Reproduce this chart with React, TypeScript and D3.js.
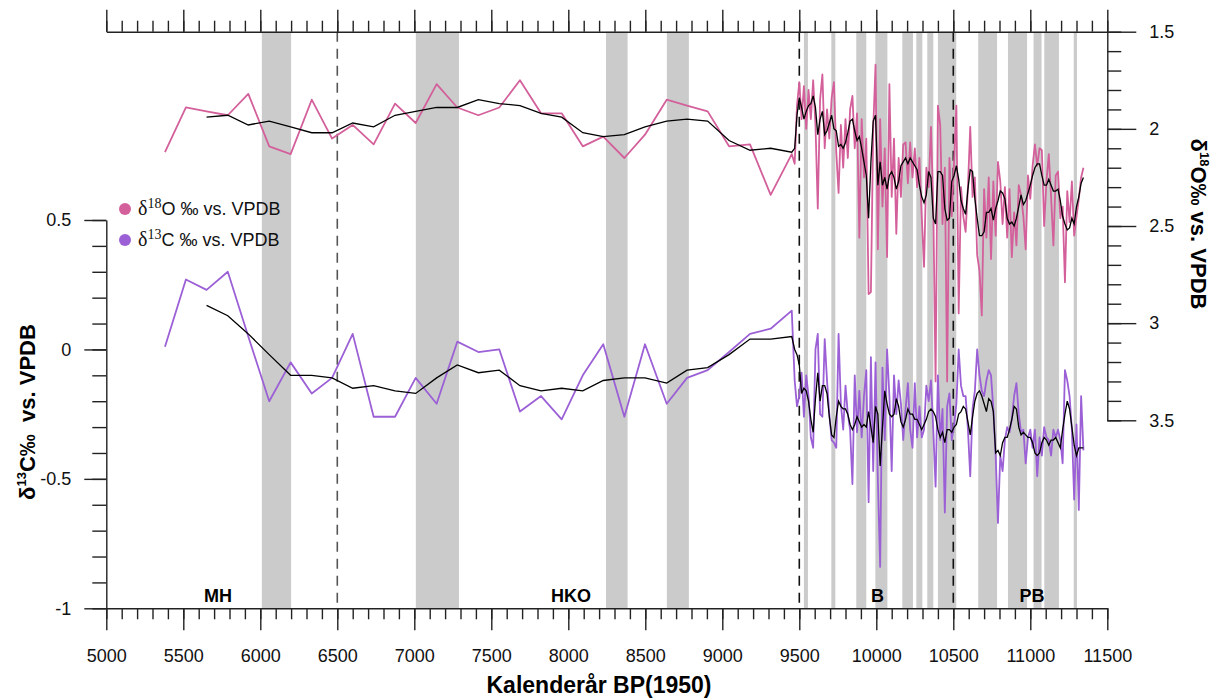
import * as React from 'react';
import * as d3 from 'd3';

// low resolution part of the record (years BP)
const lowYears = [5381, 5517, 5651, 5789, 5922, 6058, 6197, 6334, 6466, 6600, 6736, 6875, 7009, 7145, 7279, 7416, 7552, 7686, 7823, 7957, 8094, 8227, 8364, 8498, 8639, 8771, 8905, 9044, 9180, 9314, 9451];
const lowO18 = [2.12, 1.89, 1.91, 1.93, 1.82, 2.09, 2.13, 1.85, 2.05, 1.98, 2.08, 1.87, 1.97, 1.77, 1.89, 1.93, 1.89, 1.75, 1.92, 1.92, 2.09, 2.04, 2.15, 2.03, 1.85, 1.88, 1.91, 2.09, 2.08, 2.34, 2.13];
const lowC13 = [0.01, 0.27, 0.23, 0.30, 0.05, -0.20, -0.05, -0.17, -0.11, 0.06, -0.26, -0.26, -0.11, -0.21, 0.03, -0.01, 0.00, -0.24, -0.18, -0.27, -0.10, 0.02, -0.26, 0.02, -0.21, -0.11, -0.08, -0.01, 0.06, 0.08, 0.15];
// smoothed curves start at the third sample
const lowSmoothO18 = [1.94, 1.93, 1.98, 1.96, 1.99, 2.02, 2.02, 1.97, 1.99, 1.93, 1.91, 1.89, 1.89, 1.85, 1.87, 1.88, 1.92, 1.94, 2.02, 2.04, 2.03, 1.99, 1.96, 1.95, 1.96, 2.06, 2.11, 2.10, 2.12];
const lowSmoothC13 = [0.17, 0.13, 0.06, -0.02, -0.10, -0.10, -0.11, -0.15, -0.14, -0.16, -0.17, -0.11, -0.06, -0.09, -0.08, -0.14, -0.16, -0.15, -0.16, -0.12, -0.11, -0.11, -0.13, -0.08, -0.07, -0.02, 0.04, 0.04, 0.05];

// high resolution part
const hiYears = [9470, 9485, 9500, 9515, 9530, 9545, 9560, 9575, 9590, 9605, 9620, 9635, 9650, 9665, 9680, 9695, 9710, 9725, 9740, 9755, 9770, 9785, 9800, 9815, 9830, 9845, 9860, 9875, 9890, 9905, 9920, 9935, 9950, 9965, 9980, 9995,
  10010, 10025, 10040, 10055, 10070, 10085, 10100, 10115, 10130, 10145, 10160, 10175, 10190, 10205, 10220, 10235, 10250, 10265, 10280, 10295, 10310, 10325, 10340, 10355, 10370, 10385, 10400, 10415, 10430, 10445, 10460, 10475, 10490, 10505,
  10520, 10535, 10550, 10565, 10580, 10595, 10610, 10625, 10640, 10655, 10670, 10685, 10700, 10715, 10730, 10745, 10760, 10775, 10790, 10805, 10820, 10835, 10850, 10865, 10880, 10895, 10910, 10925, 10940, 10955, 10970, 10985, 11000,
  11015, 11030, 11045, 11060, 11075, 11090, 11105, 11120, 11135, 11150, 11165, 11180, 11195, 11210, 11225, 11240, 11255, 11270, 11285, 11300, 11315, 11330, 11345];
const hiO18 = [2.18, 1.88, 1.76, 1.95, 1.78, 2.00, 1.80, 1.95, 1.75, 1.98,
  2.41, 1.85, 1.72, 2.10, 1.90, 2.05, 1.84, 1.76, 2.12, 2.33,
  1.98, 2.20, 1.95, 2.15, 1.90, 1.83, 2.10, 1.92, 2.56, 1.95,
  2.25, 2.05, 2.85, 2.84, 2.00, 1.67, 2.62, 1.95, 2.40, 2.10,
  2.66, 1.77, 2.35, 2.05, 2.54, 2.15, 2.35, 2.08, 2.07, 2.28,
  2.07, 2.25, 2.10, 2.30, 2.15, 2.45, 2.71, 2.20, 2.30, 1.99,
  2.40, 3.30, 1.88, 1.98, 2.49, 2.20, 3.30, 2.15, 2.45, 2.17,
  1.88, 2.95, 2.30, 2.45, 2.53, 2.30, 1.99, 2.35, 2.25, 2.65,
  2.73, 2.96, 2.31, 2.56, 2.25, 2.67, 2.27, 2.55, 2.17, 2.27,
  2.49, 2.30, 2.56, 2.31, 2.66, 2.43, 2.60, 2.29, 2.34, 2.45,
  2.62, 2.24, 2.36, 2.19, 2.08, 2.19, 2.10, 2.11, 2.50, 2.27,
  2.13, 2.35, 2.60, 2.24, 2.22, 2.46, 2.40, 2.79, 2.32, 2.48,
  2.27, 2.55, 2.45, 2.36, 2.25, 2.20];
const hiSmoothO18 = [2.10, 1.93, 1.84, 1.89, 1.95, 1.91, 1.88, 1.87, 1.83, 1.89,
  2.03, 1.95, 1.91, 2.03, 2.01, 1.97, 1.93, 2.00, 2.01, 2.09,
  2.08, 2.10, 2.07, 2.02, 1.96, 1.95, 2.01, 2.06, 2.04, 2.10,
  2.17, 2.24, 2.46, 2.17, 1.96, 1.93, 2.29, 2.17, 2.29, 2.25,
  2.31, 2.24, 2.22, 2.25, 2.31, 2.27, 2.19, 2.17, 2.15, 2.18,
  2.15, 2.17, 2.19, 2.21, 2.29, 2.35, 2.38, 2.34, 2.22, 2.25,
  2.46, 2.49, 2.22, 2.22, 2.24, 2.41, 2.47, 2.46, 2.27, 2.24,
  2.19, 2.26, 2.37, 2.41, 2.44, 2.31, 2.21, 2.22, 2.36, 2.46,
  2.55, 2.55, 2.53, 2.43, 2.43, 2.41, 2.47, 2.41, 2.37, 2.32,
  2.33, 2.36, 2.46, 2.49, 2.48, 2.50, 2.46, 2.40, 2.34, 2.39,
  2.37, 2.33, 2.29, 2.24, 2.20, 2.18, 2.18, 2.24, 2.29, 2.29,
  2.26, 2.29, 2.32, 2.32, 2.31, 2.37, 2.45, 2.49, 2.52, 2.51,
  2.46, 2.49, 2.40, 2.35, 2.28, 2.25];
const hiC13 = [-0.12, -0.22, -0.18, -0.09, -0.26, -0.10, -0.18, -0.34, -0.38, 0.00,
  0.06, -0.25, -0.26, 0.04, -0.12, -0.25, -0.35, -0.36, -0.38, 0.06,
  -0.21, -0.31, -0.14, -0.25, -0.31, -0.52, -0.10, -0.32, -0.16, -0.34,
  -0.18, -0.08, -0.59, -0.03, -0.47, -0.05, -0.50, -0.84, -0.07, -0.35,
  0.00, -0.18, -0.47, -0.10, -0.25, -0.12, -0.21, -0.35, -0.23, -0.13,
  -0.31, -0.38, -0.13, -0.34, -0.22, -0.34, -0.31, -0.14, -0.20, -0.12,
  -0.31, -0.53, -0.10, -0.35, -0.23, -0.63, -0.22, -0.17, -0.35, -0.29,
  -0.21, 0.00, -0.14, -0.18, -0.18, -0.31, -0.49, -0.23, -0.16, 0.00,
  -0.10, -0.16, -0.18, -0.12, -0.08, -0.10, -0.23, -0.41, -0.67, -0.41,
  -0.47, -0.35, -0.30, -0.32, -0.27, -0.18, -0.13, -0.25, -0.32, -0.31,
  -0.44, -0.34, -0.31, -0.38, -0.31, -0.49, -0.34, -0.41, -0.30, -0.34,
  -0.35, -0.41, -0.31, -0.34, -0.31, -0.35, -0.44, -0.08, -0.12, -0.18,
  -0.31, -0.58, -0.29, -0.62, -0.18, -0.39];
const hiSmoothC13 = [0.00, -0.02, -0.06, -0.17, -0.15, -0.16, -0.20, -0.27, -0.32, -0.19,
  -0.09, -0.20, -0.14, -0.14, -0.17, -0.26, -0.33, -0.34, -0.26, -0.20,
  -0.22, -0.23, -0.23, -0.25, -0.29, -0.31, -0.29, -0.26, -0.28, -0.30,
  -0.29, -0.30, -0.24, -0.30, -0.36, -0.22, -0.25, -0.45, -0.30, -0.16,
  -0.21, -0.25, -0.26, -0.25, -0.19, -0.22, -0.28, -0.30, -0.27, -0.23,
  -0.25, -0.25, -0.27, -0.27, -0.29, -0.31, -0.29, -0.27, -0.24, -0.23,
  -0.24, -0.26, -0.31, -0.34, -0.32, -0.36, -0.31, -0.31, -0.32, -0.30,
  -0.29, -0.25, -0.24, -0.22, -0.23, -0.28, -0.33, -0.26, -0.20, -0.17,
  -0.16, -0.18, -0.21, -0.24, -0.19, -0.20, -0.24, -0.40, -0.39, -0.41,
  -0.36, -0.34, -0.34, -0.31, -0.27, -0.22, -0.23, -0.30, -0.33, -0.32,
  -0.33, -0.34, -0.34, -0.36, -0.40, -0.41, -0.40, -0.36, -0.34, -0.35,
  -0.37, -0.35, -0.35, -0.34, -0.36, -0.38, -0.31, -0.25, -0.20, -0.23,
  -0.30, -0.37, -0.41, -0.38, -0.38, -0.38];

// shaded intervals [start, end] in years BP
const bands = [[6010, 6200], [7010, 7290], [8245, 8385], [8640, 8783], [9530, 9556], [9708, 9734], [9870, 9935], [9994, 10072],
  [10169, 10238], [10260, 10299], [10331, 10370], [10400, 10519], [10662, 10784], [10855, 10979], [11021, 11073], [11091, 11186], [11282, 11303]];
const dashedYears = [6500, 9500, 10500];
const periodNames = ['MH', 'HKO', 'B', 'PB'];
const periodYears = [5725, 8017, 10008, 11011];

const pink = '#d3609b';
const purple = '#9c60d6';
const FONT = '"Liberation Sans", Arial, sans-serif';

const zip = (xs: number[], ys: number[]): [number, number][] =>
  ys.map((v, i) => [xs[i], v] as [number, number]).filter(d => d[0] !== undefined);

export default function App() {
  const ref = React.useRef<SVGSVGElement>(null);

  React.useEffect(() => {
    const svg = d3.select(ref.current);
    svg.selectAll('*').remove();

    const x = d3.scaleLinear().domain([5000, 11500]).range([106.3, 1107.3]);
    const yL = d3.scaleLinear().domain([-1, 0.5]).range([608.3, 220]);
    const yR = d3.scaleLinear().domain([1.5, 3.5]).range([31.7, 420.3]);

    // bands
    svg.append('g').selectAll('rect').data(bands).enter().append('rect')
      .attr('x', d => x(d[0]))
      .attr('width', d => x(d[1]) - x(d[0]))
      .attr('y', yR(1.5))
      .attr('height', yL(-1) - yR(1.5))
      .attr('fill', '#cbcbcb');

    // dashed markers
    svg.append('g').selectAll('line').data(dashedYears).enter().append('line')
      .attr('x1', d => x(d)).attr('x2', d => x(d))
      .attr('y1', yR(1.5)).attr('y2', yL(-1))
      .attr('stroke', d => d === 6500 ? '#555' : '#111')
      .attr('stroke-width', 1.6)
      .attr('stroke-dasharray', '10,7');

    const lineR = d3.line<[number, number]>().x(d => x(d[0])).y(d => yR(d[1]));
    const lineL = d3.line<[number, number]>().x(d => x(d[0])).y(d => yL(d[1]));

    const o18 = zip(lowYears, lowO18).concat(zip(hiYears, hiO18));
    const c13 = zip(lowYears, lowC13).concat(zip(hiYears, hiC13));
    const so18 = zip(lowYears.slice(2), lowSmoothO18).concat(zip(hiYears, hiSmoothO18));
    const sc13 = zip(lowYears.slice(2), lowSmoothC13).concat(zip(hiYears, hiSmoothC13));

    svg.append('path').datum(o18).attr('d', lineR).attr('fill', 'none')
      .attr('stroke', pink).attr('stroke-width', 1.8).attr('stroke-linejoin', 'round');
    svg.append('path').datum(so18).attr('d', lineR).attr('fill', 'none')
      .attr('stroke', '#000').attr('stroke-width', 1.3);
    svg.append('path').datum(c13).attr('d', lineL).attr('fill', 'none')
      .attr('stroke', purple).attr('stroke-width', 1.8).attr('stroke-linejoin', 'round');
    svg.append('path').datum(sc13).attr('d', lineL).attr('fill', 'none')
      .attr('stroke', '#000').attr('stroke-width', 1.3);

    // axes
    const styleAxis = (g: any, keepDomain: boolean) => {
      g.attr('font-family', FONT).attr('font-size', 18);
      g.selectAll('line').attr('stroke', '#222').attr('stroke-width', 1.4);
      g.selectAll('path').attr('stroke', '#222').attr('stroke-width', 1.4);
      g.selectAll('text').attr('fill', '#111');
      if (!keepDomain) g.select('.domain').remove();
    };
    const minorX = d3.range(5000, 11501, 100);
    const majorX = d3.range(5000, 11501, 500);

    svg.append('g').attr('transform', `translate(0,${yL(-1)})`)
      .call(d3.axisBottom(x).tickValues(minorX).tickSize(11).tickFormat(() => ''))
      .call((g: any) => styleAxis(g, false));
    svg.append('g').attr('transform', `translate(0,${yL(-1)})`)
      .call(d3.axisBottom(x).tickValues(majorX).tickSize(22).tickSizeOuter(0).tickPadding(19).tickFormat(d => String(d)))
      .call((g: any) => styleAxis(g, true));
    svg.append('g').attr('transform', `translate(0,${yR(1.5)})`)
      .call(d3.axisTop(x).tickValues(minorX).tickSize(11).tickFormat(() => ''))
      .call((g: any) => styleAxis(g, false));
    svg.append('g').attr('transform', `translate(0,${yR(1.5)})`)
      .call(d3.axisTop(x).tickValues(majorX).tickSize(22).tickSizeOuter(0).tickFormat(() => ''))
      .call((g: any) => styleAxis(g, true));

    svg.append('g').attr('transform', `translate(${x(5000)},0)`)
      .call(d3.axisLeft(yL).tickValues(d3.range(-10, 6).map(v => v / 10)).tickSize(14).tickFormat(() => ''))
      .call((g: any) => styleAxis(g, false));
    svg.append('g').attr('transform', `translate(${x(5000)},0)`)
      .call(d3.axisLeft(yL).tickValues([-1, -0.5, 0, 0.5]).tickSize(22).tickSizeOuter(0).tickPadding(13).tickFormat(d => String(d)))
      .call((g: any) => styleAxis(g, true));

    svg.append('g').attr('transform', `translate(${x(11500)},0)`)
      .call(d3.axisRight(yR).tickValues(d3.range(15, 36).map(v => v / 10)).tickSize(14).tickFormat(() => ''))
      .call((g: any) => styleAxis(g, false));
    svg.append('g').attr('transform', `translate(${x(11500)},0)`)
      .call(d3.axisRight(yR).tickValues([1.5, 2, 2.5, 3, 3.5]).tickSize(29).tickSizeOuter(0).tickPadding(13).tickFormat(d => String(d)))
      .call((g: any) => styleAxis(g, true));

    // period labels
    svg.append('g').selectAll('text').data(periodNames).enter().append('text')
      .attr('x', (d, i) => x(periodYears[i]))
      .attr('y', 602)
      .attr('text-anchor', 'middle')
      .attr('font-family', FONT).attr('font-size', 18).attr('font-weight', 'bold')
      .text(d => d);

    // axis titles
    svg.append('text')
      .attr('x', 599).attr('y', 693)
      .attr('text-anchor', 'middle')
      .attr('font-family', FONT).attr('font-size', 23).attr('font-weight', 'bold')
      .text('Kalenderår BP(1950)');

    const leftTitle = svg.append('text')
      .attr('transform', `translate(35,412) rotate(-90)`)
      .attr('text-anchor', 'middle')
      .attr('font-family', FONT).attr('font-size', 22).attr('font-weight', 'bold');
    leftTitle.append('tspan').text('δ');
    leftTitle.append('tspan').attr('font-size', 13).attr('dy', -9).text('13');
    leftTitle.append('tspan').attr('dy', 9).text('C‰\u00a0\u00a0vs. VPDB');

    const rightTitle = svg.append('text')
      .attr('transform', `translate(1191,224) rotate(90)`)
      .attr('text-anchor', 'middle')
      .attr('font-family', FONT).attr('font-size', 22).attr('font-weight', 'bold');
    rightTitle.append('tspan').text('δ');
    rightTitle.append('tspan').attr('font-size', 13).attr('dy', -9).text('18');
    rightTitle.append('tspan').attr('dy', 9).text('O‰ vs. VPDB');

    // legend
    const legendItems = [
      {iso: '18', el: 'O', color: pink},
      {iso: '13', el: 'C', color: purple}
    ];
    const legend = svg.selectAll('.legend').data(legendItems).enter().append('g')
      .attr('class', 'legend')
      .attr('transform', (d, i) => `translate(125,${209 + i * 31})`);
    legend.append('circle').attr('r', 6).attr('fill', d => d.color);
    const lt = legend.append('text').attr('x', 13).attr('y', 6)
      .attr('font-family', FONT).attr('font-size', 18).attr('fill', '#111');
    lt.append('tspan').attr('font-family', '"Liberation Serif", serif').attr('font-size', 20).text('δ');
    lt.append('tspan').attr('font-family', '"Liberation Serif", serif').attr('font-size', 14).attr('dy', -7).text(d => d.iso);
    lt.append('tspan').attr('dy', 7).text(d => `${d.el} ‰ vs. VPDB`);
  }, []);

  return (
    <svg ref={ref} width={1219} height={700}
      style={{position: 'absolute', left: 0, top: 0, display: 'block', background: '#fff'}} />
  );
}
